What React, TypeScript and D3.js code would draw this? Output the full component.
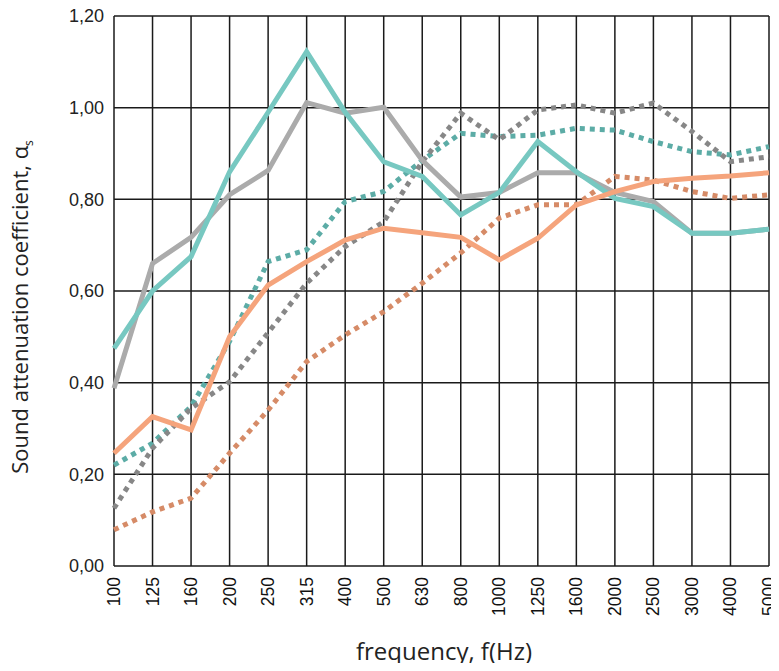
import React, { useEffect, useRef } from 'react';
import * as d3 from 'd3';

const frequencies = ['100', '125', '160', '200', '250', '315', '400', '500', '630', '800', '1000', '1250', '1600', '2000', '2500', '3000', '4000', '5000'];
const yTicks = [0, 0.2, 0.4, 0.6, 0.8, 1.0, 1.2];

const tealDotted = [0.22, 0.268, 0.348, 0.49, 0.664, 0.69, 0.795, 0.817, 0.885, 0.944, 0.937, 0.94, 0.955, 0.951, 0.926, 0.904, 0.897, 0.915];
const grayDotted = [0.126, 0.257, 0.344, 0.402, 0.509, 0.617, 0.697, 0.751, 0.882, 0.988, 0.93, 0.995, 1.006, 0.988, 1.01, 0.948, 0.882, 0.893];
const orangeDotted = [0.079, 0.118, 0.148, 0.246, 0.34, 0.446, 0.504, 0.555, 0.617, 0.683, 0.759, 0.788, 0.788, 0.85, 0.842, 0.817, 0.802, 0.81];
const graySolid = [0.388, 0.66, 0.717, 0.81, 0.863, 1.011, 0.988, 1.001, 0.885, 0.805, 0.815, 0.858, 0.858, 0.815, 0.795, 0.726, 0.726, 0.735];
const tealSolid = [0.475, 0.6, 0.675, 0.86, 0.99, 1.122, 0.99, 0.882, 0.85, 0.766, 0.815, 0.926, 0.86, 0.802, 0.784, 0.726, 0.726, 0.735];
const orangeSolid = [0.246, 0.326, 0.297, 0.5, 0.613, 0.664, 0.711, 0.737, 0.727, 0.717, 0.668, 0.715, 0.788, 0.817, 0.839, 0.846, 0.851, 0.858];

const series = [
  { values: tealDotted, color: '#5caca6', dotted: true },
  { values: grayDotted, color: '#878787', dotted: true },
  { values: orangeDotted, color: '#d68b67', dotted: true },
  { values: graySolid, color: '#ababab', dotted: false },
  { values: tealSolid, color: '#77c8c1', dotted: false },
  { values: orangeSolid, color: '#f5a47c', dotted: false },
];

const App = () => {
  const svgRef: any = useRef();

  useEffect(() => {
    const width = 779;
    const height = 671;
    const margin = { top: 16, left: 114 };
    const innerW = 769 - margin.left;
    const innerH = 566 - margin.top;

    const svg = d3.select(svgRef.current)
      .attr('width', width)
      .attr('height', height);
    svg.selectAll('*').remove();

    const g = svg.append('g').attr('transform', `translate(${margin.left},${margin.top})`);

    const x = d3.scalePoint<string>().domain(frequencies).range([0, innerW]);
    const y = d3.scaleLinear().domain([0, 1.2]).range([innerH, 0]);

    // grid
    g.selectAll('.vgrid')
      .data(frequencies)
      .enter().append('line')
      .attr('x1', (d) => x(d)!)
      .attr('x2', (d) => x(d)!)
      .attr('y1', 0)
      .attr('y2', innerH)
      .attr('stroke', '#1a1a1a')
      .attr('stroke-width', 1.5);

    g.selectAll('.hgrid')
      .data(yTicks)
      .enter().append('line')
      .attr('x1', 0)
      .attr('x2', innerW)
      .attr('y1', (d) => y(d))
      .attr('y2', (d) => y(d))
      .attr('stroke', '#1a1a1a')
      .attr('stroke-width', 1.5);

    // y tick labels
    g.selectAll('.ylab')
      .data(yTicks)
      .enter().append('text')
      .attr('x', -10)
      .attr('y', (d) => y(d))
      .attr('dy', '0.35em')
      .attr('text-anchor', 'end')
      .attr('font-family', '"Liberation Sans", Arial, sans-serif')
      .attr('font-size', 18)
      .attr('fill', '#222')
      .text((d) => d3.format('.2f')(d).replace('.', ','));

    // x tick labels (rotated)
    g.selectAll('.xlab')
      .data(frequencies)
      .enter().append('text')
      .attr('transform', (d) => `translate(${x(d)! + 6},${innerH + 11}) rotate(-90)`)
      .attr('text-anchor', 'end')
      .attr('font-family', '"Liberation Sans", Arial, sans-serif')
      .attr('font-size', 17.5)
      .attr('fill', '#111')
      .text((d) => d);

    // series
    const line = d3.line<number>()
      .x((_, i) => x(frequencies[i])!)
      .y((d) => y(d));

    series.forEach((s) => {
      g.append('path')
        .datum(s.values)
        .attr('d', line)
        .attr('fill', 'none')
        .attr('stroke', s.color)
        .attr('stroke-width', 5)
        .attr('stroke-linejoin', 'miter')
        .attr('stroke-dasharray', s.dotted ? '5 5' : null);
    });

    // axis titles
    svg.append('text')
      .attr('x', 444)
      .attr('y', 660)
      .attr('text-anchor', 'middle')
      .attr('font-family', '"Open Sans", "Noto Sans", sans-serif')
      .attr('font-size', 24)
      .attr('fill', '#222')
      .text('frequency, f(Hz)');

    const yt = svg.append('text')
      .attr('transform', `translate(28,307) rotate(-90)`)
      .attr('text-anchor', 'middle')
      .attr('font-family', '"Open Sans", "Noto Sans", sans-serif')
      .attr('font-size', 22)
      .attr('fill', '#222');
    yt.append('tspan').text('Sound attenuation coefficient, α');
    yt.append('tspan').attr('font-size', 12).attr('dy', 5).text('s');
  }, []);

  return (
    <div style={{ margin: -8 }}>
      <svg ref={svgRef} style={{ display: 'block' }}></svg>
    </div>
  );
};

export default App;
